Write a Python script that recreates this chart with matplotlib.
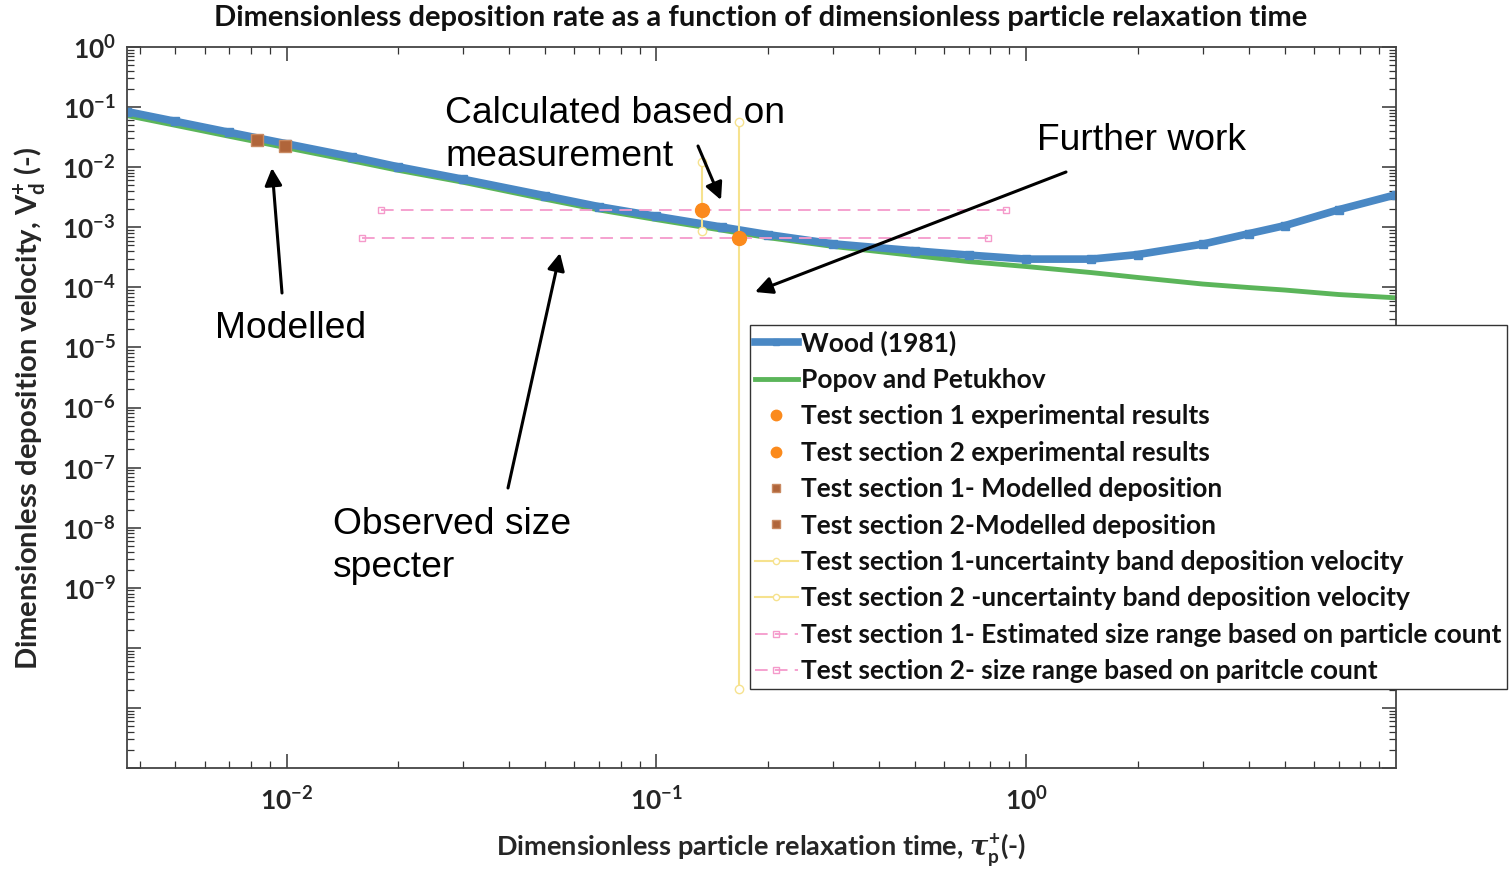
import matplotlib
matplotlib.use("Agg")
import matplotlib.pyplot as plt
from matplotlib.ticker import LogLocator, NullFormatter, FixedLocator

# ---------------- data ----------------
tau_curve = [0.0037, 0.005, 0.007, 0.01, 0.015, 0.02, 0.03, 0.05, 0.07, 0.1,
             0.15, 0.2, 0.3, 0.5, 0.7, 1.0, 1.5, 2, 3, 4, 5, 7, 10]
wood_vd = [0.0842, 0.0579, 0.0380, 0.02447, 0.01489, 0.01015, 0.00630, 0.00335,
           0.00220, 0.00152, 0.00101, 0.000755, 0.000530, 0.000405, 0.000344,
           0.000295, 0.000295, 0.000351, 0.000524, 0.000783, 0.001063, 0.00196, 0.00348]
popov_vd = [0.0722, 0.0497, 0.0326, 0.0210, 0.01277, 0.00888, 0.00561, 0.00293,
            0.00194, 0.00134, 0.000895, 0.000672, 0.000480, 0.000337, 0.000268,
            0.000222, 0.000176, 0.000146, 0.0001135, 9.92e-5, 9.02e-5, 7.59e-5, 6.69e-5]

ts1_tau, ts1_vd = 0.133, 1.96e-3
ts2_tau, ts2_vd = 0.1667, 6.7e-4
mod1_tau, mod1_vd = 0.0083, 0.0285
mod2_tau, mod2_vd = 0.00988, 0.0227
unc1_vd = [8.8e-4, 1.23e-2]
unc2_vd = [2.1e-11, 0.0568]
size1_tau = [0.01795, 0.879]
size2_tau = [0.01603, 0.786]

legend_labels = ["Wood (1981)", "Popov and Petukhov",
                 "Test section 1 experimental results",
                 "Test section 2 experimental results",
                 "Test section 1- Modelled deposition",
                 "Test section 2-Modelled deposition",
                 "Test section 1-uncertainty band deposition velocity",
                 "Test section 2 -uncertainty band deposition velocity",
                 "Test section 1- Estimated size range based on particle count",
                 "Test section 2- size range based on paritcle count"]

x_major = [1e-2, 1e-1, 1e0]
x_major_labels = [r"$\mathbf{10^{-2}}$", r"$\mathbf{10^{-1}}$", r"$\mathbf{10^{0}}$"]
y_exps = list(range(0, -13, -1))
y_major_labels = [r"$\mathbf{10^{%d}}$" % e if e >= -9 else "" for e in y_exps]

title = "Dimensionless deposition rate as a function of dimensionless particle relaxation time"

# ---------------- style ----------------
plt.rcParams['font.family'] = ['Lato', 'DejaVu Sans']
plt.rcParams['font.weight'] = 'bold'
plt.rcParams['mathtext.fontset'] = 'custom'
plt.rcParams['mathtext.rm'] = 'Lato:bold'
plt.rcParams['mathtext.bf'] = 'Lato:bold'
plt.rcParams['mathtext.it'] = 'DejaVu Serif:italic'

W, H = 1510, 874
fig = plt.figure(figsize=(W / 100, H / 100), dpi=100)
L, T, R, B = 127, 47, 1396, 768
ax = fig.add_axes([L / W, 1 - B / H, (R - L) / W, (B - T) / H])

blue = '#4a88c4'
green = '#5bb55a'
orange = '#fb8a1c'
brown = '#b0653a'
yellow = '#f6e28e'
pink = '#f59acb'

h_wood, = ax.plot(tau_curve, wood_vd, '-s', color=blue, lw=5.5, ms=5.5, zorder=2)
h_popov, = ax.plot(tau_curve, popov_vd, '-', color=green, lw=3.5, zorder=1.9)
h_ts1, = ax.plot([ts1_tau], [ts1_vd], 'o', color=orange, ms=10, zorder=6, ls='none')
h_ts2, = ax.plot([ts2_tau], [ts2_vd], 'o', color=orange, ms=10, zorder=6, ls='none')
h_m1, = ax.plot([mod1_tau], [mod1_vd], 's', mfc=brown, mec='#c98a62', ms=8, zorder=6, ls='none')
h_m2, = ax.plot([mod2_tau], [mod2_vd], 's', mfc=brown, mec='#c98a62', ms=8, zorder=6, ls='none')
h_u1, = ax.plot([ts1_tau, ts1_tau], unc1_vd, '-o', color=yellow, mfc='white', mec=yellow,
                ms=6, lw=1.5, zorder=4)
h_u2, = ax.plot([ts2_tau, ts2_tau], unc2_vd, '-o', color=yellow, mfc='white', mec=yellow,
                ms=6, lw=1.5, zorder=4)
h_s1, = ax.plot(size1_tau, [ts1_vd, ts1_vd], 's', ls=(0, (7, 4)), color=pink, mfc='none',
                mec=pink, ms=5, lw=1.3, zorder=3)
h_s2, = ax.plot(size2_tau, [ts2_vd, ts2_vd], 's', ls=(0, (7, 4)), color=pink, mfc='none',
                mec=pink, ms=5, lw=1.3, zorder=3)

ax.set_xscale('log')
ax.set_yscale('log')
ax.set_xlim(0.0037, 10)
ax.set_ylim(1e-12, 1)

ax.xaxis.set_major_locator(FixedLocator(x_major))
ax.set_xticklabels(x_major_labels)
ax.xaxis.set_minor_locator(LogLocator(base=10, subs=range(2, 10), numticks=50))
ax.xaxis.set_minor_formatter(NullFormatter())
ax.yaxis.set_major_locator(FixedLocator([10.0 ** e for e in y_exps]))
ax.set_yticklabels(y_major_labels)
ax.yaxis.set_minor_locator(LogLocator(base=10, subs=range(2, 10), numticks=50))
ax.yaxis.set_minor_formatter(NullFormatter())

ax.tick_params(which='both', direction='in', top=True, right=True, color='#333333')
ax.tick_params(which='major', length=10, width=1.1, labelsize=19, labelcolor='#262626')
ax.tick_params(axis='x', which='major', pad=13)
ax.tick_params(axis='y', which='major', pad=8)
ax.tick_params(which='minor', length=5, width=0.9)
for s in ax.spines.values():
    s.set_color('#444444')
    s.set_linewidth(1.3)

fig.text(761 / W, 1 - 18 / H, title, ha='center', va='center', fontsize=21,
         fontweight='bold', color='#111111')
fig.text(761 / W, 1 - 850 / H, r"Dimensionless particle relaxation time, $\it{\tau}^{\mathbf{+}}_{\mathbf{p}}$(-)",
         ha='center', va='center', fontsize=19.5, fontweight='bold', color='#262626')
fig.text(30 / W, 1 - 408 / H, r"Dimensionless deposition velocity, V$^{\mathbf{+}}_{\mathbf{d}}$ (-)",
         ha='center', va='center', rotation=90, fontsize=21, fontweight='bold', color='#262626')

# annotations (figure pixel coordinates, measured from top)
def P(x, y):
    return (x, H - y)

arrow = dict(arrowstyle='-|>', mutation_scale=26, lw=2.2, color='black', shrinkA=0, shrinkB=0)
ann_font = dict(family=['Liberation Sans', 'DejaVu Sans'], fontweight='normal', fontsize=26.8, color='black')

ax.annotate('', xy=P(272, 168), xytext=P(282, 293), xycoords='figure pixels',
            textcoords='figure pixels', arrowprops=arrow, zorder=8)
ax.annotate('', xy=P(560, 253), xytext=P(508, 488), xycoords='figure pixels',
            textcoords='figure pixels', arrowprops=arrow, zorder=8)
ax.annotate('', xy=P(721, 200), xytext=P(698, 146), xycoords='figure pixels',
            textcoords='figure pixels', arrowprops=arrow, zorder=8)
ax.annotate('', xy=P(755, 292), xytext=P(1066, 172), xycoords='figure pixels',
            textcoords='figure pixels', arrowprops=arrow, zorder=8)

fig.text(445 / W, 1 - 135 / H, "Calculated based on\nmeasurement", ha='left', va='center',
         linespacing=1.27, **ann_font)
fig.text(1037 / W, 1 - 141 / H, "Further work", ha='left', va='center', **ann_font)
fig.text(215 / W, 1 - 329 / H, "Modelled", ha='left', va='center', **ann_font)
fig.text(333 / W, 1 - 546 / H, "Observed size\nspecter", ha='left', va='center',
         linespacing=1.27, **ann_font)

handles = [h_wood, h_popov, h_ts1, h_ts2, h_m1, h_m2, h_u1, h_u2, h_s1, h_s2]
leg = fig.legend(handles, legend_labels, loc='upper left',
                 bbox_to_anchor=(750 / W, 1 - 325 / H), bbox_transform=fig.transFigure,
                 fontsize=19, frameon=True, fancybox=False, framealpha=1,
                 edgecolor='#333333', handlelength=1.6, handletextpad=0.15,
                 labelspacing=0.47, borderpad=0.2, borderaxespad=0, markerscale=0.75)
leg.get_frame().set_linewidth(1.0)
for t in leg.get_texts():
    t.set_color('#111111')

fig.savefig('out.png', dpi=100)
